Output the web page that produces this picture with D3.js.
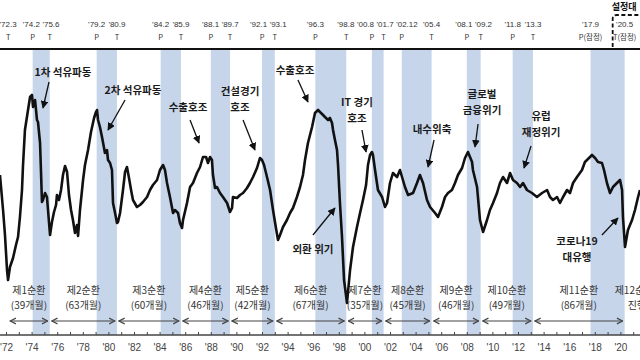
<!DOCTYPE html>
<html><head><meta charset="utf-8">
<script src="https://cdn.jsdelivr.net/npm/d3@7"></script>
<style>body{margin:0;background:#fff}svg{display:block}</style>
</head><body>
<svg id="c" width="640" height="360"></svg>
<script>
// ---- DATA ----
const lineYears = [
1971.53,1971.77,1971.92,1972.08,1972.16,1972.31,1972.55,1972.78,1972.94,1973.09,
1973.25,1973.33,1973.48,1973.72,1973.88,1974.03,1974.11,1974.27,1974.42,1974.50,
1974.66,1974.73,1974.81,1974.89,1975.05,1975.20,1975.44,1975.59,1975.75,1975.91,
1975.98,1976.14,1976.30,1976.45,1976.61,1976.77,1976.92,1977.08,1977.23,1977.39,
1977.55,1977.63,1977.78,1978.02,1978.17,1978.41,1978.64,1978.88,1979.03,1979.11,
1979.19,1979.34,1979.50,1979.66,1979.73,1979.89,1979.97,1980.13,1980.28,1980.36,
1980.52,1980.67,1980.75,1980.91,1981.14,1981.30,1981.45,1981.61,1981.77,1981.92,
1982.23,1982.47,1982.70,1983.02,1983.25,1983.48,1983.80,1984.03,1984.27,1984.42,
1984.58,1984.81,1985.05,1985.20,1985.44,1985.59,1985.75,1985.83,1986.14,1986.38,
1986.61,1986.92,1987.16,1987.39,1987.63,1987.78,1987.94,1988.09,1988.17,1988.33,
1988.48,1988.72,1988.95,1989.27,1989.50,1989.66,1989.73,1990.05,1990.28,1990.52,
1990.83,1991.06,1991.30,1991.61,1991.84,1992.00,1992.16,1992.39,1992.63,1992.86,
1993.09,1993.25,1993.41,1993.64,1993.95,1994.19,1994.42,1994.73,1994.97,1995.20,
1995.36,1995.59,1995.91,1996.14,1996.38,1996.53,1996.77,1996.92,1997.16,1997.31,
1997.47,1997.55,1997.70,1997.86,1997.94,1998.09,1998.25,1998.41,1998.64,1998.88,
1999.11,1999.42,1999.66,1999.89,2000.13,2000.28,2000.44,2000.59,2000.67,2000.83,
2001.06,2001.38,2001.61,2001.77,2002.00,2002.23,2002.55,2002.78,2002.94,2003.17,
2003.41,2003.80,2004.11,2004.34,2004.58,2004.89,2005.13,2005.52,2005.75,2006.06,
2006.30,2006.53,2006.84,2007.08,2007.31,2007.63,2007.86,2008.09,2008.25,2008.41,
2008.48,2008.80,2009.03,2009.19,2009.27,2009.58,2009.81,2010.05,2010.36,2010.59,
2010.83,2011.14,2011.38,2011.61,2011.92,2012.16,2012.39,2012.70,2013.09,2013.48,
2013.88,2014.27,2014.50,2014.73,2015.05,2015.28,2015.52,2015.83,2016.06,2016.30,
2016.61,2017.00,2017.23,2017.39,2017.78,2018.02,2018.25,2018.56,2018.72,2018.95,
2019.19,2019.42,2019.73,2019.97,2020.13,2020.20,2020.36,2020.59,2020.91,2021.14,
2021.38,2021.53];
const lineValues = [
100.75,99.00,97.75,96.00,95.50,96.15,96.60,97.25,97.65,98.65,
100.00,101.25,103.00,104.00,104.65,104.75,104.15,104.50,103.50,103.40,
102.35,101.00,99.40,99.50,99.85,99.65,97.75,98.40,98.90,99.25,
99.75,99.50,100.00,100.75,101.20,100.90,99.75,99.00,98.50,97.85,
98.25,97.70,99.00,100.50,101.25,102.00,102.90,103.60,103.90,104.00,
103.50,103.15,102.65,102.10,101.85,102.00,101.50,101.35,101.00,99.35,
98.85,98.35,98.40,98.85,100.00,100.90,101.15,100.60,100.00,99.50,
99.15,99.25,99.40,99.65,100.00,100.25,100.50,101.00,101.25,101.00,
100.35,99.65,98.85,99.00,98.85,98.35,98.10,98.50,99.35,100.15,
100.35,100.85,101.15,101.65,101.65,101.35,101.65,101.50,100.75,100.10,
100.15,99.85,99.65,99.35,98.90,99.10,99.65,99.60,99.75,99.85,
100.10,100.35,100.65,101.10,101.60,101.50,101.25,100.65,100.00,99.00,
98.10,97.50,97.75,98.15,98.50,98.85,99.10,99.65,100.15,100.75,
101.50,102.35,103.15,103.85,104.00,103.90,103.75,103.65,103.50,103.60,
103.35,103.00,102.50,102.00,101.25,99.35,97.65,95.50,94.35,96.00,
97.15,98.15,98.85,99.50,100.25,101.25,101.75,101.90,101.75,101.00,
100.00,99.65,99.15,99.35,100.35,100.85,100.65,101.00,100.65,100.15,
99.75,99.85,100.35,100.75,100.35,99.50,99.15,98.85,98.65,99.15,
99.65,99.85,100.00,100.35,100.75,101.10,101.60,101.90,101.65,101.40,
101.00,100.15,98.50,98.10,97.90,98.50,99.00,99.35,99.85,100.35,
100.65,100.35,100.85,100.50,100.35,100.15,100.35,100.00,99.85,99.65,
99.85,100.00,99.65,99.50,99.65,99.35,99.65,100.00,99.85,100.35,
100.65,101.00,101.40,101.50,101.75,101.60,101.40,101.35,101.00,100.35,
99.85,100.15,100.35,100.50,100.00,98.65,97.15,98.00,98.50,99.00,
99.65,100.00];

const turnLabels = ["'72.3","'74.2","'75.6","'79.2","'80.9","'84.2","'85.9","'88.1","'89.7","'92.1","'93.1",
  "'96.3","'98.8","'00.8","'01.7","'02.12","'05.4","'08.1","'09.2","'11.8","'13.3","'17.9","'20.5"];
const turnTypes = ["T","P","T","P","T","P","T","P","T","P","T","P","T","P","T","P","T","P","T","P","T","P(잠정)","T(잠정)"];

const cycleNames = ["제1순환","제2순환","제3순환","제4순환","제5순환","제6순환","제7순환","제8순환","제9순환","제10순환","제11순환"];
const cycleMonths = ["(39개월)","(63개월)","(60개월)","(46개월)","(42개월)","(67개월)","(35개월)","(45개월)","(46개월)","(49개월)","(86개월)"];
const currentCycle = ["제12순환","진행중"];

const yearTicks = d3.range(1972, 2022);

// annotations: text lines, label anchor (year, value), arrow from (year,value) to (year,value)
const annText = [["1차 석유파동"],["2차 석유파동"],["수출호조"],["건설경기","호조"],["수출호조"],["IT 경기","호조"],
  ["내수위축"],["글로벌","금융위기"],["유럽","재정위기"],["외환 위기"],["코로나19","대유행"]];
const annAt = [[1976.45,105.9],[1981.92,105.0],[1986.22,104.15],[1990.28,104.9],[1994.58,106.0],[1999.42,104.35],
  [2005.28,103.05],[2009.19,104.75],[2013.80,103.65],[1995.98,97.05],[2016.61,97.4]];
const annFrom = [[1975.36,105.4],[1981.30,104.5],[1986.38,103.5],[1990.52,103.5],[1994.81,105.5],[1999.81,103.0],
  [2005.44,102.5],[2008.88,103.3],[2013.02,102.2],[1995.98,97.75],[2018.56,97.75]];
const annTo = [[1974.89,104.1],[1979.97,103.0],[1987.08,102.35],[1991.45,102.0],[1995.59,104.4],[2000.13,101.9],
  [2004.97,101.15],[2008.64,102.15],[2012.47,101.1],[1997.70,99.1],[2019.81,98.6]];

// ---- CHART ----
const svg = d3.select("#c");
const W = 640, H = 360;
const plotTop = 50, axisY = 335;
const x = d3.scaleLinear().domain([1972, 2020]).range([6, 620.4]);
const y = d3.scaleLinear().domain([94, 106]).range([310, 70]);
const KR = "'Noto Sans CJK KR','Noto Sans',sans-serif";

function parseTurn(s){
  const p = s.replace("'","").split(".");
  const yy = +p[0], m = +p[1];
  return (yy > 50 ? 1900 + yy : 2000 + yy) + (m - 1) / 12;
}
const turns = turnLabels.map((s,i)=>({label:s, type:turnTypes[i], t:parseTurn(s)}));

const defs = svg.append("defs");
defs.append("marker").attr("id","ah").attr("viewBox","0 0 10 10").attr("refX",9).attr("refY",5)
  .attr("markerWidth",6).attr("markerHeight",6).attr("orient","auto")
  .append("path").attr("d","M0,0L10,5L0,10z").attr("fill","#111");
defs.append("marker").attr("id","chev").attr("viewBox","0 0 10 10").attr("refX",9).attr("refY",5)
  .attr("markerWidth",6).attr("markerHeight",6).attr("orient","auto-start-reverse")
  .append("path").attr("d","M1,1L9,5L1,9").attr("fill","none").attr("stroke","#444").attr("stroke-width",1.6);

// bands (peak -> trough)
const bands = [];
turns.forEach((d,i)=>{ if (d.type[0]==="P" && turns[i+1]) bands.push([d.t, turns[i+1].t]); });
svg.append("g").selectAll("rect").data(bands).join("rect")
  .attr("x", d=>x(d[0])).attr("width", d=>x(d[1])-x(d[0]))
  .attr("y", plotTop).attr("height", axisY-plotTop)
  .attr("fill", "#c6d5ea");

// top rule
svg.append("line").attr("x1",0).attr("x2",W).attr("y1",49).attr("y2",49)
  .attr("stroke","#111").attr("stroke-width",2);

// turning-point date labels with simple collision relaxation
const gT = svg.append("g").attr("font-family","Arial,'Liberation Sans',sans-serif").attr("fill","#333");
const dl = gT.selectAll("text.d").data(turns).join("text").attr("class","d")
  .attr("x", d=>x(d.t)).attr("y",27).attr("text-anchor","middle").attr("font-size",8).text(d=>d.label);
const items = turns.map((d,i)=>({c:x(d.t), w:dl.nodes()[i].getComputedTextLength()+2.5}));
for (let it=0; it<80; it++){
  for (let i=0;i<items.length-1;i++){
    const a=items[i], b=items[i+1];
    const ov = (a.c + a.w/2) - (b.c - b.w/2);
    if (ov>0){ a.c -= ov/2; b.c += ov/2; }
  }
}
dl.attr("x",(d,i)=>items[i].c);
gT.selectAll("text.t").data(turns).join("text").attr("class","t")
  .attr("x", d=>x(d.t)).attr("y",40).attr("text-anchor","middle")
  .attr("font-size",7.5).attr("font-family",KR).text(d=>d.type);

// dashed bracket + heading at top right
const last = turns[turns.length-1];
const bx = x(last.t) - 12;
svg.append("path").attr("d",`M${bx},47 L${bx},19 Q${bx},15 ${bx+4},15 L${W},15`)
  .attr("fill","none").attr("stroke","#111").attr("stroke-width",1.8).attr("stroke-dasharray","4,2.5");
svg.append("text").attr("x",bx-1).attr("y",10).attr("font-family",KR).attr("font-weight","bold")
  .attr("font-size",9).attr("fill","#111").text("설정대");

// axis
const axis = d3.axisBottom(x).tickValues(yearTicks).tickSizeInner(-3).tickSizeOuter(0).tickPadding(9)
  .tickFormat(d => d % 2 === 0 ? "'" + String(d % 100).padStart(2,"0") : "");
const gA = svg.append("g").attr("transform",`translate(0,${axisY})`).call(axis);
gA.select(".domain").remove();
gA.selectAll(".tick line").attr("stroke","#444");
gA.selectAll(".tick text").attr("font-size",10).attr("fill","#444").attr("font-family","Arial,'Liberation Sans',sans-serif");
svg.append("line").attr("x1",0).attr("x2",W).attr("y1",axisY).attr("y2",axisY)
  .attr("stroke","#444").attr("stroke-width",1.5);

// cycles
const troughs = turns.filter(d=>d.type[0]==="T").map(d=>d.t);
const cyc = cycleNames.map((n,i)=>({name:n, months:cycleMonths[i], a:troughs[i], b:troughs[i+1]}));
const gC = svg.append("g").attr("font-family",KR).attr("fill","#333").attr("font-size",10);
gC.selectAll("line").data(cyc).join("line")
  .attr("x1",d=>x(d.a)+2).attr("x2",d=>x(d.b)-2).attr("y1",321).attr("y2",321)
  .attr("stroke","#444").attr("stroke-width",1.2)
  .attr("marker-start","url(#chev)").attr("marker-end","url(#chev)");
gC.selectAll("text.n").data(cyc).join("text").attr("class","n")
  .attr("x",d=>(x(d.a)+x(d.b))/2).attr("y",294).attr("text-anchor","middle").text(d=>d.name);
gC.selectAll("text.m").data(cyc).join("text").attr("class","m")
  .attr("x",d=>(x(d.a)+x(d.b))/2).attr("y",309).attr("text-anchor","middle").text(d=>d.months);
const lastT = troughs[troughs.length-1];
gC.append("text").attr("x",x(lastT)-10).attr("y",294).text(currentCycle[0]);
gC.append("text").attr("x",x(lastT)+3).attr("y",309).text(currentCycle[1]);

// main line
const pts = lineYears.map((t,i)=>[t, lineValues[i]]);
svg.append("path").datum(pts)
  .attr("d", d3.line().x(d=>x(d[0])).y(d=>y(d[1])))
  .attr("fill","none").attr("stroke","#111").attr("stroke-width",2.6).attr("stroke-linejoin","round");

// annotations
const gN = svg.append("g").attr("font-family",KR).attr("font-weight","bold").attr("font-size",10.5).attr("fill","#1a1a1a");
annText.forEach((lines,i)=>{
  const cx = x(annAt[i][0]), cy = y(annAt[i][1]);
  lines.forEach((s,j)=>{
    gN.append("text").attr("x",cx).attr("y",cy + 4 - (lines.length>1?1:0) + j*15.5).attr("text-anchor","middle").text(s);
  });
  svg.append("line")
    .attr("x1",x(annFrom[i][0])).attr("y1",y(annFrom[i][1]))
    .attr("x2",x(annTo[i][0])).attr("y2",y(annTo[i][1]))
    .attr("stroke","#111").attr("stroke-width",1.3).attr("marker-end","url(#ah)");
});
</script>
</body></html>
